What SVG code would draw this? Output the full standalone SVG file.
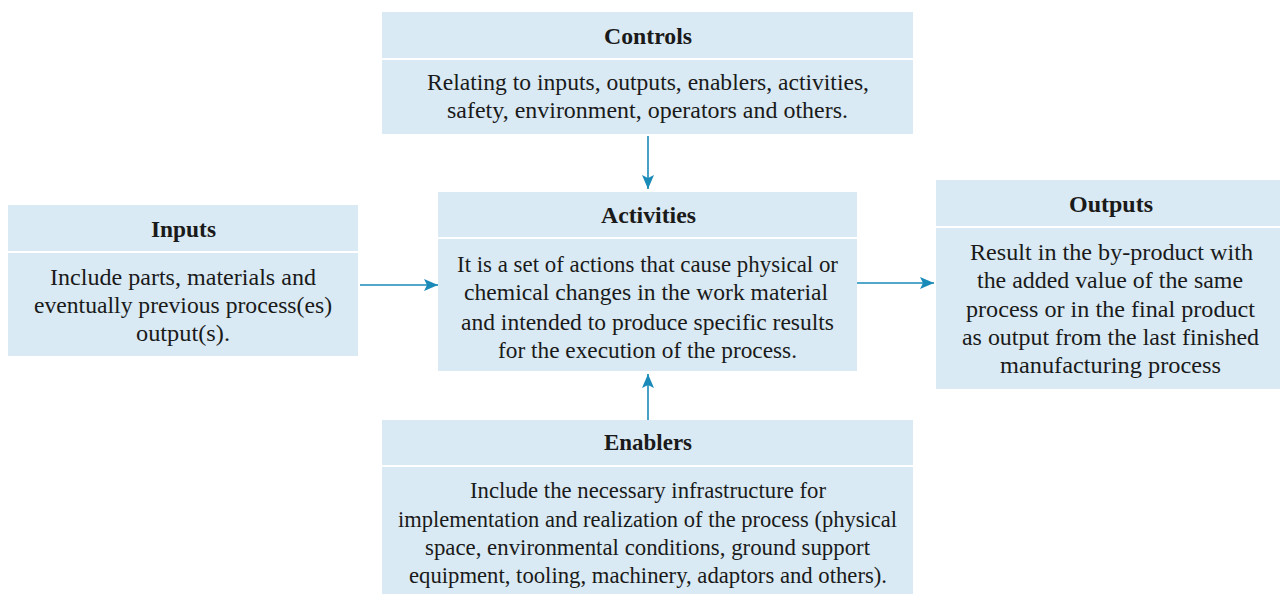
<svg xmlns="http://www.w3.org/2000/svg" width="1280" height="594" viewBox="0 0 1280 594">
<style>
.box{fill:#d9eaf4}
.sep{stroke:#ffffff;stroke-width:2}
.t{font-family:"Liberation Serif","Times New Roman",serif;font-size:22.5px;fill:#1a1a1a;text-anchor:middle}
.h{font-weight:bold}
.c{stroke:#1a8ab8;stroke-width:1.6;fill:none;marker-end:url(#ah)}
</style>
<defs>
<marker id="ah" viewBox="0 0 14 12" refX="14" refY="6" markerWidth="14" markerHeight="12" markerUnits="userSpaceOnUse" orient="auto">
<path d="M0,0 L14,6 L0,12 L3,6 Z" fill="#1a8ab8"/>
</marker>
</defs>
<rect width="1280" height="594" fill="#ffffff"/>
<g id="controls">
<rect class="box" x="382" y="12" width="531" height="122"/>
<line class="sep" x1="382" y1="59" x2="913" y2="59"/>
<text class="t h" x="648" y="44" textLength="88" lengthAdjust="spacingAndGlyphs">Controls</text>
<text class="t" x="648" y="90" textLength="442" lengthAdjust="spacingAndGlyphs">Relating to inputs, outputs, enablers, activities,</text>
<text class="t" x="647.5" y="118" textLength="401" lengthAdjust="spacingAndGlyphs">safety, environment, operators and others.</text>
</g>
<g id="inputs">
<rect class="box" x="8" y="205" width="350" height="151"/>
<line class="sep" x1="8" y1="252" x2="358" y2="252"/>
<text class="t h" x="183.5" y="237" textLength="65" lengthAdjust="spacingAndGlyphs">Inputs</text>
<text class="t" x="183" y="285" textLength="266" lengthAdjust="spacingAndGlyphs">Include parts, materials and</text>
<text class="t" x="183" y="313" textLength="298" lengthAdjust="spacingAndGlyphs">eventually previous process(es)</text>
<text class="t" x="183" y="341" textLength="94" lengthAdjust="spacingAndGlyphs">output(s).</text>
</g>
<g id="activities">
<rect class="box" x="438" y="192" width="419" height="179"/>
<line class="sep" x1="438" y1="238" x2="857" y2="238"/>
<text class="t h" x="648.5" y="223" textLength="95" lengthAdjust="spacingAndGlyphs">Activities</text>
<text class="t" x="647.5" y="272" textLength="381" lengthAdjust="spacingAndGlyphs">It is a set of actions that cause physical or</text>
<text class="t" x="646" y="300" textLength="364" lengthAdjust="spacingAndGlyphs">chemical changes in the work material</text>
<text class="t" x="647.5" y="330" textLength="373" lengthAdjust="spacingAndGlyphs">and intended to produce specific results</text>
<text class="t" x="647.5" y="358" textLength="299" lengthAdjust="spacingAndGlyphs">for the execution of the process.</text>
</g>
<g id="outputs">
<rect class="box" x="936" y="180" width="344" height="209"/>
<line class="sep" x1="936" y1="227" x2="1280" y2="227"/>
<text class="t h" x="1111" y="212" textLength="84" lengthAdjust="spacingAndGlyphs">Outputs</text>
<text class="t" x="1111.5" y="260" textLength="283" lengthAdjust="spacingAndGlyphs">Result in the by-product with</text>
<text class="t" x="1110" y="288" textLength="266" lengthAdjust="spacingAndGlyphs">the added value of the same</text>
<text class="t" x="1110.5" y="317" textLength="289" lengthAdjust="spacingAndGlyphs">process or in the final product</text>
<text class="t" x="1110.5" y="345" textLength="297" lengthAdjust="spacingAndGlyphs">as output from the last finished</text>
<text class="t" x="1110.5" y="373" textLength="221" lengthAdjust="spacingAndGlyphs">manufacturing process</text>
</g>
<g id="enablers">
<rect class="box" x="382" y="420" width="531" height="174"/>
<line class="sep" x1="382" y1="466" x2="913" y2="466"/>
<text class="t h" x="648" y="450" textLength="88" lengthAdjust="spacingAndGlyphs">Enablers</text>
<text class="t" x="648" y="498" textLength="356" lengthAdjust="spacingAndGlyphs">Include the necessary infrastructure for</text>
<text class="t" x="647.5" y="527" textLength="499" lengthAdjust="spacingAndGlyphs">implementation and realization of the process (physical</text>
<text class="t" x="647.5" y="555" textLength="445" lengthAdjust="spacingAndGlyphs">space, environmental conditions, ground support</text>
<text class="t" x="648" y="583" textLength="478" lengthAdjust="spacingAndGlyphs">equipment, tooling, machinery, adaptors and others).</text>
</g>
<g id="connectors">
<line class="c" x1="648" y1="136" x2="648" y2="189"/>
<line class="c" x1="360" y1="285" x2="438" y2="285"/>
<line class="c" x1="857" y1="283" x2="934" y2="283"/>
<line class="c" x1="648" y1="420" x2="648" y2="374"/>
</g>
</svg>
